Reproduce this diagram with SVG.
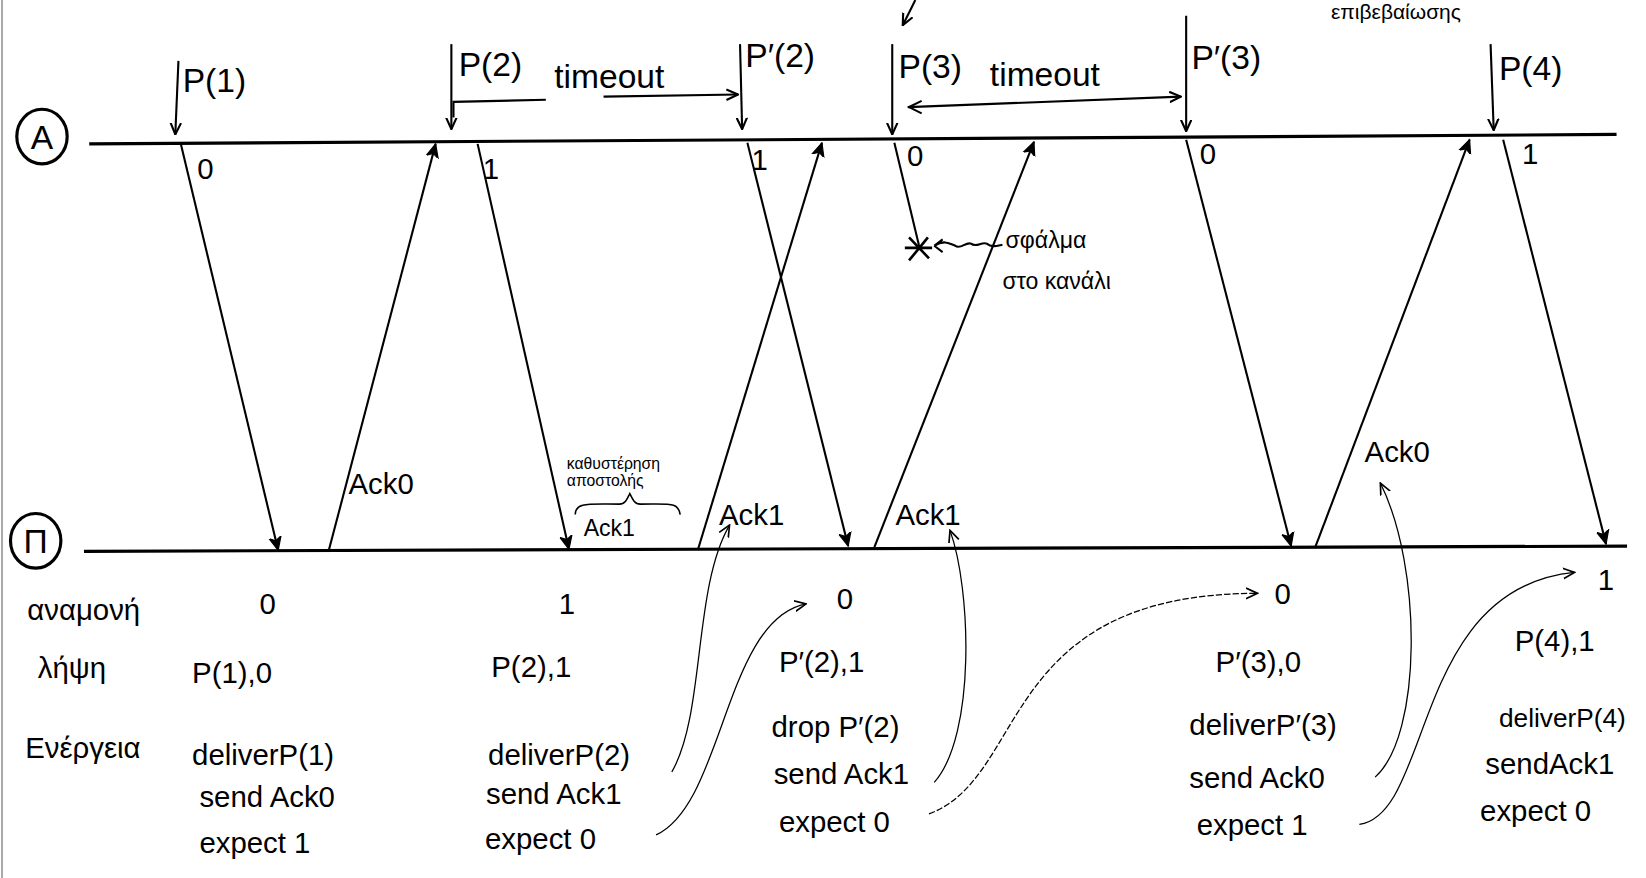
<svg xmlns="http://www.w3.org/2000/svg" width="1646" height="878" viewBox="0 0 1646 878">
<defs>
<marker id="ah" viewBox="0 0 12 12" refX="11" refY="6" markerWidth="12" markerHeight="12" markerUnits="userSpaceOnUse" orient="auto">
<path d="M0,1 L11,6 L0,11" fill="none" stroke="#000" stroke-width="2"/>
</marker>
<marker id="ahf" viewBox="0 0 12 12" refX="11" refY="6" markerWidth="14" markerHeight="14" markerUnits="userSpaceOnUse" orient="auto">
<path d="M0,1 L11,6 L0,11 L3,6 Z" fill="#000" stroke="#000" stroke-width="1"/>
</marker>
<marker id="aht" viewBox="0 0 12 12" refX="11" refY="6" markerWidth="12" markerHeight="12" markerUnits="userSpaceOnUse" orient="auto">
<path d="M0,1 L11,6 L0,11" fill="none" stroke="#000" stroke-width="1.6"/>
</marker>
</defs>
<style>
text{font-family:"Liberation Sans","DejaVu Sans",sans-serif;fill:#000}
.lbl{font-size:32px}
.sm{font-size:28px}
.tiny{font-size:15px}
.axis{stroke:#000;stroke-width:3;fill:none}
.msg{stroke:#000;stroke-width:2;fill:none;marker-end:url(#ahf)}
.ev{stroke:#000;stroke-width:2;fill:none;marker-end:url(#ah)}
.thin{stroke:#000;stroke-width:1.2;fill:none;marker-end:url(#aht)}
.circ{stroke:#000;stroke-width:3;fill:none}
</style>
<rect width="1646" height="878" fill="#fff"/>
<line x1="2" y1="0" x2="2" y2="878" stroke="#aaa" stroke-width="2"/>
<g transform="scale(1.0497,1.0502)">
<g id="axis-A">
<ellipse class="circ" cx="40" cy="130" rx="24" ry="26"/>
<text x="40" y="142" class="lbl" text-anchor="middle">A</text>
<line class="axis" x1="85" y1="137" x2="1540" y2="128"/>
</g>
<g id="axis-P">
<ellipse class="circ" cx="34" cy="515" rx="24" ry="26"/>
<text x="34" y="527" class="lbl" text-anchor="middle">Π</text>
<line class="axis" x1="80" y1="525" x2="1550" y2="520"/>
</g>
<g id="top-notes">
<text x="1268" y="18" style="font-size:20px">επιβεβαίωσης</text>
<line class="ev" x1="872" y1="0" x2="860" y2="24"/>
</g>
<g id="sender-events">
<line class="ev" x1="170" y1="58" x2="167" y2="128"/>
<text x="174" y="88" class="lbl">P(1)</text>
<line class="ev" x1="430" y1="42" x2="430" y2="123"/>
<text x="437" y="72" class="lbl">P(2)</text>
<line class="ev" x1="705" y1="42" x2="707" y2="123"/>
<text x="710" y="64" class="lbl">P′(2)</text>
<line class="ev" x1="850" y1="42" x2="850" y2="128"/>
<text x="856" y="74" class="lbl">P(3)</text>
<line class="ev" x1="1130" y1="15" x2="1130" y2="125"/>
<text x="1135" y="66" class="lbl">P′(3)</text>
<line class="ev" x1="1420" y1="42" x2="1423" y2="124"/>
<text x="1428" y="76" class="lbl">P(4)</text>
<text x="528" y="84" class="lbl">timeout</text>
<polyline points="432,112 432,97 520,95" fill="none" stroke="#000" stroke-width="2"/>
<line class="ev" x1="575" y1="92" x2="703" y2="90"/>
<text x="943" y="82" class="lbl">timeout</text>
<line class="ev" x1="865" y1="102" x2="1125" y2="92"/>
<path d="M878,96 L866,102 L878,108" fill="none" stroke="#000" stroke-width="2"/>
</g>
<g id="connectors">
<line class="msg" x1="172" y1="136" x2="265" y2="524"/>
<line class="msg" x1="313" y1="525" x2="415" y2="137"/>
<line class="msg" x1="455" y1="137" x2="542" y2="523"/>
<line class="msg" x1="665" y1="523" x2="783" y2="136"/>
<line class="msg" x1="712" y1="136" x2="808" y2="520"/>
<line class="msg" x1="833" y1="521" x2="985" y2="135"/>
<line x1="852" y1="136" x2="876" y2="236" stroke="#000" stroke-width="2"/>
<line class="msg" x1="1130" y1="133" x2="1230" y2="520"/>
<line class="msg" x1="1253" y1="521" x2="1400" y2="133"/>
<line class="msg" x1="1432" y1="133" x2="1530" y2="518"/>
<path class="thin" d="M640,735 C672,680 660,560 695,500"/>
<path class="thin" d="M625,795 C690,765 690,590 768,575"/>
<path class="thin" d="M890,745 C930,700 925,560 905,505"/>
<path class="thin" d="M885,775 C980,740 950,565 1198,565" stroke-dasharray="6,2"/>
<path class="thin" d="M1310,740 C1355,700 1355,540 1315,460"/>
<path class="thin" d="M1295,785 C1365,775 1345,560 1500,545"/>
</g>
<g id="msg-labels">
<text x="188" y="170" class="sm">0</text>
<text x="332" y="470" class="sm">Ack0</text>
<text x="460" y="170" class="sm">1</text>
<text x="685" y="500" class="sm">Ack1</text>
<text x="716" y="162" class="sm">1</text>
<text x="853" y="500" class="sm">Ack1</text>
<text x="864" y="158" class="sm">0</text>
<text x="1143" y="156" class="sm">0</text>
<text x="1300" y="440" class="sm">Ack0</text>
<text x="1450" y="156" class="sm">1</text>
</g>
<g id="loss">
<path d="M866,226 L885,246 M884,226 L866,248 M862,236 L888,236" stroke="#000" stroke-width="2.5" fill="none"/>
<path d="M890,234 L898,228 M890,234 L898,240 M890,234 C900,228 905,232 910,234 C915,238 920,230 925,232 C930,236 935,230 940,232 C945,236 950,234 955,233" stroke="#000" stroke-width="2" fill="none"/>
<text x="958" y="236" style="font-size:22px">σφάλμα</text>
<text x="955" y="275" style="font-size:22px">στο κανάλι</text>
</g>
<g id="delay-note">
<text x="540" y="447" class="tiny">καθυστέρηση</text>
<text x="540" y="463" class="tiny">αποστολής</text>
<path d="M548,490 C548,478 560,480 590,480 C596,480 598,474 600,470 C602,474 604,480 610,480 C640,480 646,478 648,490" fill="none" stroke="#000" stroke-width="1.5"/>
<text x="556" y="510" style="font-size:22px">Ack1</text>
</g>
<g id="row-labels">
<text x="26" y="590" class="sm">αναμονή</text>
<text x="36" y="646" class="sm">λήψη</text>
<text x="24" y="722" class="sm">Ενέργεια</text>
</g>
<g id="col-1">
<text x="255" y="585" class="sm" text-anchor="middle">0</text>
<text x="183" y="650" class="sm">P(1),0</text>
<text x="183" y="728" class="sm">deliverP(1)</text>
<text x="190" y="768" class="sm">send Ack0</text>
<text x="190" y="812" class="sm">expect 1</text>
</g>
<g id="col-2">
<text x="540" y="585" class="sm" text-anchor="middle">1</text>
<text x="468" y="645" class="sm">P(2),1</text>
<text x="465" y="728" class="sm">deliverP(2)</text>
<text x="463" y="766" class="sm">send Ack1</text>
<text x="462" y="808" class="sm">expect 0</text>
</g>
<g id="col-3">
<text x="805" y="580" class="sm" text-anchor="middle">0</text>
<text x="742" y="640" class="sm">P′(2),1</text>
<text x="735" y="702" class="sm">drop P′(2)</text>
<text x="737" y="747" class="sm">send Ack1</text>
<text x="742" y="792" class="sm">expect 0</text>
</g>
<g id="col-4">
<text x="1222" y="575" class="sm" text-anchor="middle">0</text>
<text x="1158" y="640" class="sm">P′(3),0</text>
<text x="1133" y="700" class="sm">deliverP′(3)</text>
<text x="1133" y="750" class="sm">send Ack0</text>
<text x="1140" y="795" class="sm">expect 1</text>
</g>
<g id="col-5">
<text x="1530" y="562" class="sm" text-anchor="middle">1</text>
<text x="1443" y="620" class="sm">P(4),1</text>
<text x="1428" y="692" style="font-size:25px">deliverP(4)</text>
<text x="1415" y="737" class="sm">sendAck1</text>
<text x="1410" y="782" class="sm">expect 0</text>
</g>
</g>
</svg>
